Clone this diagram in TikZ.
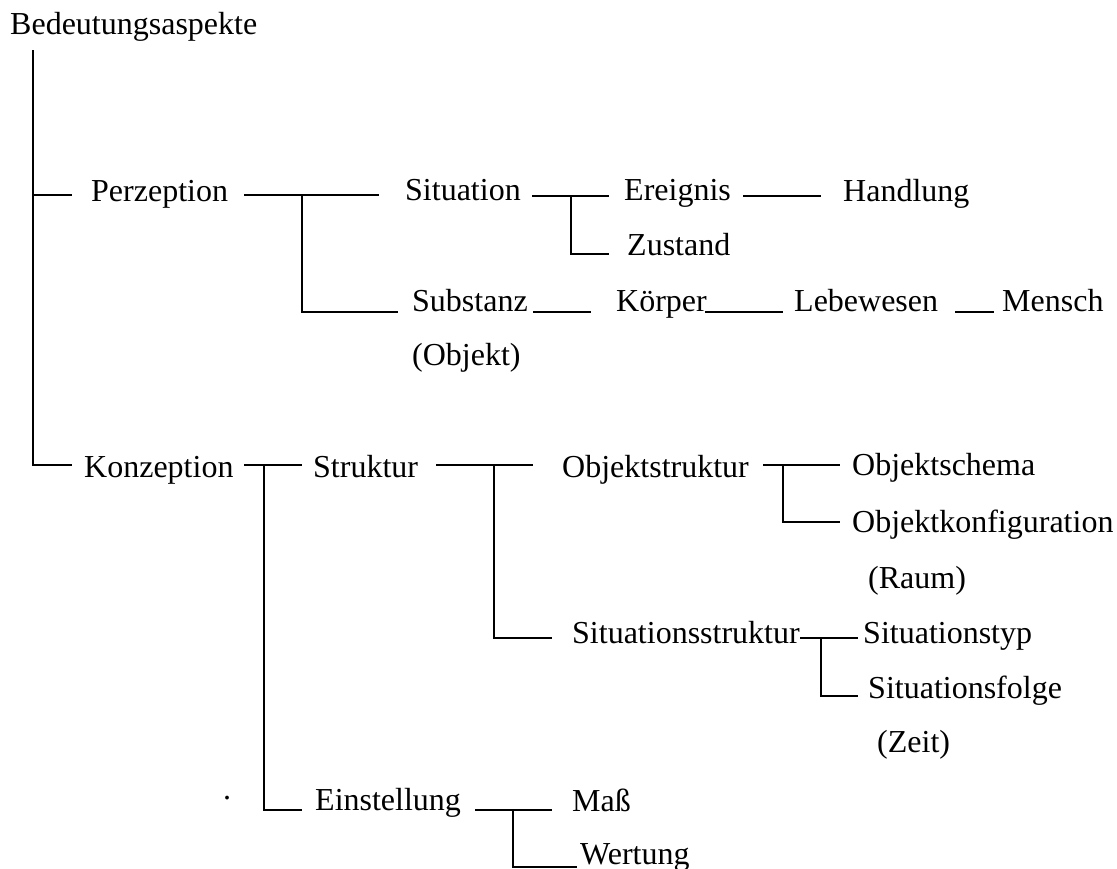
\documentclass[tikz,border=0pt]{standalone}
\usepackage{fontspec}
\setmainfont{Liberation Serif}
\begin{document}
\begin{tikzpicture}[x=1pt,y=-1pt,
  lbl/.style={anchor=base west, inner sep=0pt, font=\fontsize{32}{38}\selectfont},
  branch/.style={line width=1.8pt, line join=miter}]
\useasboundingbox (0,0) rectangle (1117,869);

% labels of the tree
\node[lbl] (root)    at (10,35)   {Bedeutungsaspekte};
\node[lbl] (perz)    at (91,202)  {Perzeption};
\node[lbl] (konz)    at (84,477)  {Konzeption};
\node[lbl] (sit)     at (405,201) {Situation};
\node[lbl] (ereig)   at (624,201) {Ereignis};
\node[lbl] (handl)   at (843,202) {Handlung};
\node[lbl] (zust)    at (627,256) {Zustand};
\node[lbl] (subst)   at (412,312) {Substanz};
\node[lbl] (objekt)  at (412,365) {(Objekt)};
\node[lbl] (koerp)   at (616,312) {Körper};
\node[lbl] (lebew)   at (794,312) {Lebewesen};
\node[lbl] (mensch)  at (1002,312) {Mensch};
\node[lbl] (strukt)  at (313,477) {Struktur};
\node[lbl] (ostr)    at (562,477) {Objektstruktur};
\node[lbl] (oschema) at (852,475) {Objektschema};
\node[lbl] (okonf)   at (852,532) {Objektkonfiguration};
\node[lbl] (raum)    at (868,588) {(Raum)};
\node[lbl] (sstr)    at (572,643) {Situationsstruktur};
\node[lbl] (styp)    at (863,643) {Situationstyp};
\node[lbl] (sfolge)  at (868,698) {Situationsfolge};
\node[lbl] (zeit)    at (877,752) {(Zeit)};
\node[lbl] (einst)   at (315,810) {Einstellung};
\node[lbl] (mass)    at (572,811) {Maß};
\node[lbl] (wert)    at (580,864) {Wertung};
\node[lbl] (dot)     at (223,799) {.};

% line end points
\coordinate (trunkTop) at (33,50);
\coordinate (trunkP)   at (33,195);
\coordinate (trunkK)   at (33,465);
\coordinate (pIn)      at (72,195);
\coordinate (kIn)      at (72,465);

\coordinate (pOut)     at (244,195);
\coordinate (pJ)       at (302,195);
\coordinate (sitIn)    at (379,195);
\coordinate (substIn)  at (398,312);

\coordinate (kOut)     at (244,465);
\coordinate (kJ)       at (264,465);
\coordinate (struktIn) at (302,465);
\coordinate (einstIn)  at (302,810);

\coordinate (sitOut)   at (532,196);
\coordinate (sitJ)     at (571,196);
\coordinate (ereigIn)  at (609,196);
\coordinate (zustIn)   at (609,254);

\coordinate (ereigOut) at (743,196);
\coordinate (handlIn)  at (821,196);

\coordinate (substOut) at (533,312);
\coordinate (koerpIn)  at (591,312);
\coordinate (koerpOut) at (705,312);
\coordinate (lebewIn)  at (783,312);
\coordinate (lebewOut) at (955,312);
\coordinate (menschIn) at (994,312);

\coordinate (struktOut) at (436,465);
\coordinate (struktJ)   at (494,465);
\coordinate (ostrIn)    at (533,465);
\coordinate (sstrIn)    at (552,638);

\coordinate (ostrOut)   at (763,465);
\coordinate (ostrJ)     at (783,465);
\coordinate (oschemaIn) at (840,465);
\coordinate (okonfIn)   at (840,522);

\coordinate (sstrOut)   at (800,638);
\coordinate (sstrJ)     at (821,638);
\coordinate (stypIn)    at (858,638);
\coordinate (sfolgeIn)  at (858,696);

\coordinate (einstOut)  at (475,810);
\coordinate (einstJ)    at (513,810);
\coordinate (massIn)    at (552,810);
\coordinate (wertIn)    at (577,867);

% connectors
\draw[branch] (trunkTop) |- (kIn);
\draw[branch] (trunkP) -- (pIn);

\draw[branch] (pOut) -- (sitIn);
\draw[branch] (pJ) |- (substIn);

\draw[branch] (kOut) -- (struktIn);
\draw[branch] (kJ) |- (einstIn);

\draw[branch] (sitOut) -- (ereigIn);
\draw[branch] (sitJ) |- (zustIn);
\draw[branch] (ereigOut) -- (handlIn);

\draw[branch] (substOut) -- (koerpIn);
\draw[branch] (koerpOut) -- (lebewIn);
\draw[branch] (lebewOut) -- (menschIn);

\draw[branch] (struktOut) -- (ostrIn);
\draw[branch] (struktJ) |- (sstrIn);

\draw[branch] (ostrOut) -- (oschemaIn);
\draw[branch] (ostrJ) |- (okonfIn);

\draw[branch] (sstrOut) -- (stypIn);
\draw[branch] (sstrJ) |- (sfolgeIn);

\draw[branch] (einstOut) -- (massIn);
\draw[branch] (einstJ) |- (wertIn);
\end{tikzpicture}
\end{document}
